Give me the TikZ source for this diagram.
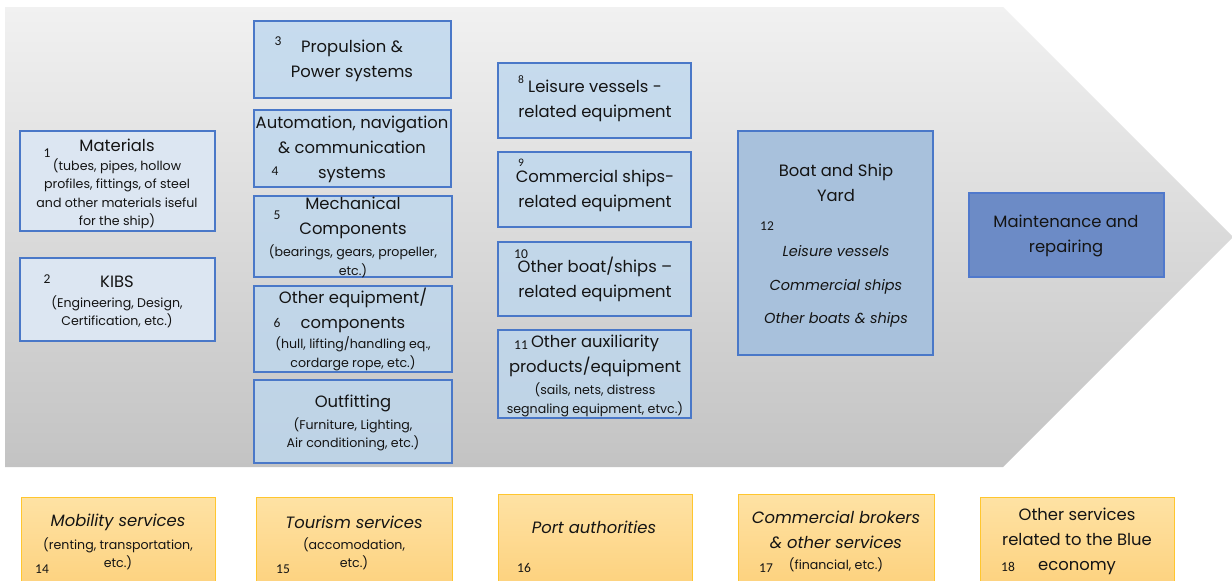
\documentclass[tikz,border=0pt]{standalone}
\usepackage{fontspec}
\setmainfont{Poppins}
\newfontfamily\numfont{Carlito}
\definecolor{bord}{HTML}{4A78C8}
\definecolor{fillA}{HTML}{DCE6F2}
\definecolor{fillB}{HTML}{BDD7EE}
\definecolor{fillY}{HTML}{A8C1DC}
\definecolor{fillM}{HTML}{6C8BC6}
\definecolor{bordM}{HTML}{5079CC}
\definecolor{orTop}{HTML}{FEE2A4}
\definecolor{orBot}{HTML}{FDD07A}
\definecolor{orBord}{HTML}{FFC62E}
\definecolor{grTop}{HTML}{F1F1F1}
\definecolor{grBot}{HTML}{C3C3C3}
\definecolor{txt}{HTML}{141414}
\tikzset{
  boxA/.style={draw=bord, line width=1.1pt, fill=fillA, inner sep=0},
  boxB/.style={draw=bord, line width=1.1pt, fill=fillB, fill opacity=0.8, draw opacity=1, inner sep=0},
  boxY/.style={draw=bord, line width=1.1pt, fill=fillY, inner sep=0},
  boxM/.style={draw=bordM, line width=1.1pt, fill=fillM, inner sep=0},
  boxO/.style={draw=orBord, line width=1pt, top color=orTop, bottom color=orBot, inner sep=0},
  ttl/.style={font=\fontsize{16.4}{25}\selectfont, align=center, text=txt, inner sep=0},
  ittl/.style={font=\fontsize{16.4}{25}\selectfont\itshape, align=center, text=txt, inner sep=0},
  sub/.style={font=\fontsize{12.6}{18.5}\selectfont, align=center, text=txt, inner sep=0},
  num/.style={font=\numfont\fontsize{13.5}{15}\selectfont, text=txt, inner sep=0},
  snum/.style={font=\numfont\fontsize{11.5}{13}\selectfont, text=txt, inner sep=0},
}
\begin{document}
\begin{tikzpicture}[x=1pt,y=-1pt]
\path[use as bounding box, clip] (0,0) rectangle (1232,581);
\fill[white] (0,0) rectangle (1232,581);
% chevron
\shade[top color=grTop, bottom color=grBot] (5,7) -- (1003,7) -- (1233,237) -- (1003,467) -- (5,467) -- cycle;

% column 1
\node[boxA, minimum width=195pt, minimum height=100pt] (mat) at (117.5,181) {};
\node[ttl] (matT) at (117,145) {Materials};
\node[sub] (matS) at (117,194) {(tubes, pipes, hollow\\profiles, fittings, of steel\\and other materials iseful\\for the ship)};
\node[num] (n1) at (47,153) {1};

\node[boxA, minimum width=195pt, minimum height=83pt] (kibs) at (117.5,299.5) {};
\node[ttl] (kibsT) at (117,282) {KIBS};
\node[sub] (kibsS) at (117,312) {(Engineering, Design,\\Certification, etc.)};
\node[num] (n2) at (47,279) {2};

% column 2
\node[boxB, minimum width=197pt, minimum height=77pt] (prop) at (352.5,59.5) {};
\node[ttl] (propT) at (352,60.5) {Propulsion \&\\Power systems};
\node[num] (n3) at (278,41) {3};

\node[boxB, minimum width=197pt, minimum height=77pt] (auto) at (352.5,148.5) {};
\node[ttl] (autoT) at (352,149) {Automation, navigation\\\& communication\\systems};
\node[num] (n4) at (275,171) {4};

\node[boxB, minimum width=198pt, minimum height=81pt] (mech) at (353,236.5) {};
\node[ttl] (mechT) at (353,217.5) {Mechanical\\Components};
\node[sub] (mechS) at (353,261.5) {(bearings, gears, propeller,\\etc.)};
\node[num] (n5) at (277,215) {5};

\node[boxB, minimum width=198pt, minimum height=86pt] (oeq) at (353,329) {};
\node[ttl] (oeqT) at (353,310.5) {Other equipment/\\components};
\node[sub] (oeqS) at (353,354) {(hull, lifting/handling eq.,\\cordarge rope, etc.)};
\node[num] (n6) at (277,323) {6};

\node[boxB, minimum width=198pt, minimum height=83pt] (outf) at (353,421.5) {};
\node[ttl] (outfT) at (353,403) {Outfitting};
\node[sub] (outfS) at (353,434.5) {(Furniture, Lighting,\\Air conditioning, etc.)};

% column 3
\node[boxB, minimum width=193pt, minimum height=75pt] (leis) at (594.5,100.5) {};
\node[ttl] (leisT) at (595,100.5) {Leisure vessels -\\related equipment};
\node[snum] (n8) at (521,80) {8};

\node[boxB, minimum width=193pt, minimum height=75pt] (comm) at (594.5,189.5) {};
\node[ttl] (commT) at (595,190.5) {Commercial ships-\\related equipment};
\node[snum] (n9) at (521,163) {9};

\node[boxB, minimum width=193pt, minimum height=74pt] (oboat) at (594.5,279) {};
\node[ttl] (oboatT) at (595,279.5) {Other boat/ships --\\related equipment};
\node[num] (n10) at (521,254) {10};

\node[boxB, minimum width=193pt, minimum height=88pt] (aux) at (594.5,374) {};
\node[ttl] (auxT) at (595,355.5) {Other auxiliarity\\products/equipment};
\node[sub] (auxS) at (595,400) {(sails, nets, distress\\segnaling equipment, etvc.)};
\node[num] (n11) at (521,345) {11};

% yard
\node[boxY, minimum width=195pt, minimum height=224pt] (yard) at (835.5,243) {};
\node[ttl] (yardT) at (836,182.5) {Boat and Ship\\Yard};
\node[font=\fontsize{14.5}{33.5}\selectfont\itshape, align=center, text=txt, inner sep=0] (yardS) at (836,286.5) {Leisure vessels\\Commercial ships\\Other boats \& ships};
\node[num] (n12) at (767,226) {12};

% maintenance
\node[boxM, minimum width=195pt, minimum height=84pt] (maint) at (1066.5,235) {};
\node[ttl] (maintT) at (1066,236) {Maintenance and\\repairing};

% bottom services
\node[boxO, minimum width=194pt, minimum height=100pt] (mob) at (118,547) {};
\node[ittl] (mobT) at (118,522) {Mobility services};
\node[sub] (mobS) at (118,554) {(renting, transportation,\\etc.)};
\node[num] (n14) at (42,569) {14};

\node[boxO, minimum width=196pt, minimum height=100pt] (tour) at (354,547) {};
\node[ittl] (tourT) at (354,522) {Tourism services};
\node[sub] (tourS) at (354,554) {(accomodation,\\etc.)};
\node[num] (n15) at (283,569) {15};

\node[boxO, minimum width=194pt, minimum height=100pt] (port) at (595,544) {};
\node[ittl] (portT) at (594,527) {Port authorities};
\node[num] (n16) at (524,568) {16};

\node[boxO, minimum width=196pt, minimum height=100pt] (brok) at (836,544) {};
\node[ittl] (brokT) at (836,529.5) {Commercial brokers\\\& other services};
\node[sub] (brokS) at (836,565) {(financial, etc.)};
\node[num] (n17) at (766,568) {17};

\node[boxO, minimum width=194pt, minimum height=100pt] (oserv) at (1077,547) {};
\node[ttl] (oservT) at (1077,541) {Other services\\related to the Blue\\economy};
\node[num] (n18) at (1008,567) {18};
\end{tikzpicture}
\end{document}
